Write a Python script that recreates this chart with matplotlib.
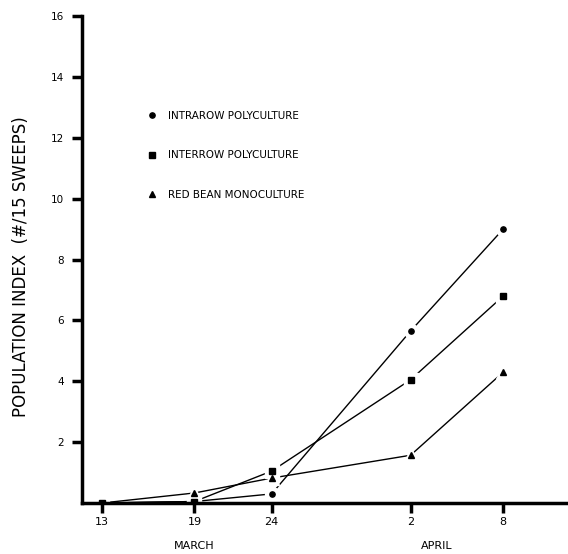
import matplotlib
matplotlib.use("Agg")
import matplotlib.pyplot as plt

# days counted from 1 March (April 2 = 33, April 8 = 39)
days = [13, 19, 24, 33, 39]
day_labels = ['13', '19', '24', '2', '8']

intrarow = [0.0, 0.05, 0.3, 5.65, 9.0]
interrow = [0.0, 0.05, 1.05, 4.05, 6.8]
red_bean = [0.0, 0.33, 0.82, 1.57, 4.3]

series = [
    ('INTRAROW POLYCULTURE', intrarow, 'o'),
    ('INTERROW POLYCULTURE', interrow, 's'),
    ('RED BEAN MONOCULTURE', red_bean, '^'),
]

plt.rcParams['font.family'] = ['DejaVu Sans']

fig = plt.figure(figsize=(5.68, 5.54), dpi=100)
ax = fig.add_axes([0.144, 0.092, 0.856, 0.879])

handles = []
for label, vals, mk in series:
    ax.plot(days, vals, color='black', lw=1.0, zorder=1)
    # white halo so the line stops short of the marker
    ax.plot(days, vals, ls='none', marker=mk, ms=10, color='white', zorder=2)
    h, = ax.plot(days, vals, ls='none', marker=mk, ms=3.8, color='black', zorder=3, label=label)
    handles.append(h)

ax.set_xlim(11.7, 43.2)
ax.set_ylim(0, 16)
ax.set_xticks(days)
ax.set_xticklabels(day_labels, fontsize=8)
ax.set_yticks([2, 4, 6, 8, 10, 12, 14, 16])
ax.set_yticklabels(['2', '4', '6', '8', '10', '12', '14', '16'], fontsize=7.5)
ax.tick_params(axis='both', direction='out', length=7, width=2.5)
ax.tick_params(axis='y', pad=6)
ax.tick_params(axis='x', pad=3)

for side in ['top', 'right']:
    ax.spines[side].set_visible(False)
ax.spines['left'].set_linewidth(2.5)
ax.spines['bottom'].set_linewidth(2.5)

ax.set_ylabel('POPULATION INDEX  (#/15 SWEEPS)', fontsize=12)
ax.yaxis.set_label_coords(-0.106, 0.485)

fig.text(194 / 568, 1 - 546 / 554, 'MARCH', fontsize=8, ha='center', va='center')
fig.text(437 / 568, 1 - 546 / 554, 'APRIL', fontsize=8, ha='center', va='center')

ax.legend(handles=handles, loc='upper left', bbox_to_anchor=(0.118, 0.825),
          frameon=False, handlelength=0.6, handletextpad=1.3,
          labelspacing=2.85, fontsize=7.5)

fig.savefig('out.png', dpi=100)
